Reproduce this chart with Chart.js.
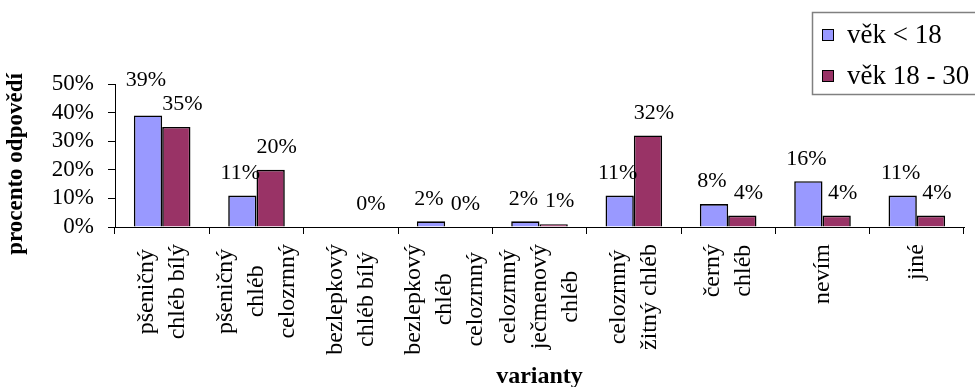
<!DOCTYPE html>
<html>
<head>
<meta charset="utf-8">
<script src="https://cdn.jsdelivr.net/npm/chart.js@4"></script>
<style>
  html, body { margin: 0; padding: 0; background: #fff; }
  #wrap { width: 975px; height: 387px; }
</style>
</head>
<body>
<div id="wrap"><canvas id="c" width="975" height="387"></canvas></div>
<script>
// Categories (each entry is the wrapped label, one string per line)
const categories = [
  ["pšeničný", "chléb bílý"],
  ["pšeničný", "chléb", "celozrnný"],
  ["bezlepkový", "chléb bílý"],
  ["bezlepkový", "chléb", "celozrnný"],
  ["celozrnný", "ječmenový", "chléb"],
  ["celozrnný", "žitný chléb"],
  ["černý", "chléb"],
  ["nevím"],
  ["jiné"]
];
const seriesNames = ["věk < 18", "věk 18 - 30"];
const under18 = [39, 11, null, 2, 2, 11, 8, 16, 11];
const age18to30 = [35, 20, 0, 0, 1, 32, 4, 4, 4];
const yTicks = [0, 10, 20, 30, 40, 50];
const yTitle = "procento odpovědí";
const xTitle = "varianty";

const SERIF = '"Liberation Serif", "Times New Roman", serif';
const colors = ["#9999FF", "#993366"];

// Draws value labels, wrapped rotated category labels, axis titles and the boxed legend
const decorations = {
  id: 'decorations',
  afterDraw(chart) {
    const ctx = chart.ctx;
    const xs = chart.scales.x;
    ctx.save();
    ctx.fillStyle = '#000';

    // value labels above the bars; a label that would collide with its
    // neighbour in the same group is lifted above it
    ctx.font = '22px ' + SERIF;
    ctx.textAlign = 'center';
    ctx.textBaseline = 'middle';
    const shift = [-2, 6];
    const labels = [];
    chart.data.datasets.forEach((ds, di) => {
      const meta = chart.getDatasetMeta(di);
      meta.data.forEach((el, i) => {
        const v = ds.data[i];
        if (v === null || v === undefined) return;
        const text = v + '%';
        labels.push({ i, di, v, text, x: el.x + shift[di], y: el.y - 22.5, w: ctx.measureText(text).width });
      });
    });
    for (let i = 0; i < categories.length; i++) {
      const pair = labels.filter(l => l.i === i);
      if (pair.length !== 2) continue;
      const [a, b] = pair[0].v >= pair[1].v ? pair : [pair[1], pair[0]];
      const overlapX = Math.abs(a.x - b.x) < (a.w + b.w) / 2;
      if (overlapX && Math.abs(a.y - b.y) < 22) a.y = b.y - 24;
    }
    labels.forEach(l => ctx.fillText(l.text, l.x, l.y));

    // category labels, rotated, lines centred in the block
    ctx.font = '24px ' + SERIF;
    const lineGap = 31;
    const top = 244;
    categories.forEach((lines, i) => {
      const cx = xs.getPixelForValue(i);
      const maxW = Math.max(...lines.map(l => ctx.measureText(l).width));
      const cy = top + maxW / 2;
      lines.forEach((line, j) => {
        const lx = cx + (j - (lines.length - 1) / 2) * lineGap;
        ctx.save();
        ctx.translate(lx, cy);
        ctx.rotate(-Math.PI / 2);
        ctx.textAlign = 'center';
        ctx.textBaseline = 'middle';
        ctx.fillText(line, 0, 0);
        ctx.restore();
      });
    });

    // axis titles
    ctx.font = 'bold 23px ' + SERIF;
    ctx.save();
    ctx.translate(16, 164);
    ctx.rotate(-Math.PI / 2);
    ctx.textAlign = 'center';
    ctx.textBaseline = 'middle';
    ctx.fillText(yTitle, 0, 0);
    ctx.restore();
    ctx.font = 'bold 24px ' + SERIF;
    ctx.textAlign = 'center';
    ctx.textBaseline = 'middle';
    ctx.fillText(xTitle, (chart.chartArea.left + chart.chartArea.right) / 2, 377);

    // legend box
    ctx.strokeStyle = '#808080';
    ctx.lineWidth = 1.5;
    ctx.strokeRect(812.5, 12.5, 175, 82);
    ctx.font = '27px ' + SERIF;
    ctx.textAlign = 'left';
    ctx.textBaseline = 'middle';
    chart.data.datasets.forEach((ds, di) => {
      const y = 35 + di * 41;
      ctx.fillStyle = ds.backgroundColor;
      ctx.fillRect(822, y - 6, 12, 12);
      ctx.strokeStyle = '#000';
      ctx.lineWidth = 1;
      ctx.strokeRect(822.5, y - 5.5, 11, 11);
      ctx.fillStyle = '#000';
      ctx.fillText(ds.label, 847, y + 1);
    });
    ctx.restore();
  }
};

new Chart(document.getElementById('c'), {
  type: 'bar',
  data: {
    labels: categories.map(l => l.join(' ')),
    datasets: [
      { label: seriesNames[0], data: under18, backgroundColor: colors[0], borderColor: '#000', borderWidth: 1.6 },
      { label: seriesNames[1], data: age18to30, backgroundColor: colors[1], borderColor: '#000', borderWidth: 1.6 }
    ]
  },
  options: {
    responsive: false,
    devicePixelRatio: 1,
    animation: false,
    layout: { padding: { top: 84, right: 11, left: 0, bottom: 0 } },
    datasets: { bar: { categoryPercentage: 0.6, barPercentage: 1.0 } },
    plugins: { legend: { display: false }, tooltip: { enabled: false } },
    scales: {
      x: {
        type: 'category',
        offset: true,
        grid: { display: true, offset: true, drawOnChartArea: false, drawTicks: true, tickLength: 7, color: '#000' },
        border: { color: '#000', width: 1 },
        ticks: { display: false },
        afterFit: s => { s.height = 160; }
      },
      y: {
        min: yTicks[0],
        max: yTicks[yTicks.length - 1],
        afterBuildTicks: s => { s.ticks = yTicks.map(v => ({ value: v })); },
        ticks: {
          autoSkip: false,
          callback: v => v + '%',
          font: { family: SERIF, size: 23 },
          color: '#000',
          padding: 14
        },
        grid: { drawOnChartArea: false, tickLength: 7, color: '#000' },
        border: { color: '#000', width: 1 },
        afterFit: s => { s.width = 115; }
      }
    }
  },
  plugins: [decorations]
});
</script>
</body>
</html>
